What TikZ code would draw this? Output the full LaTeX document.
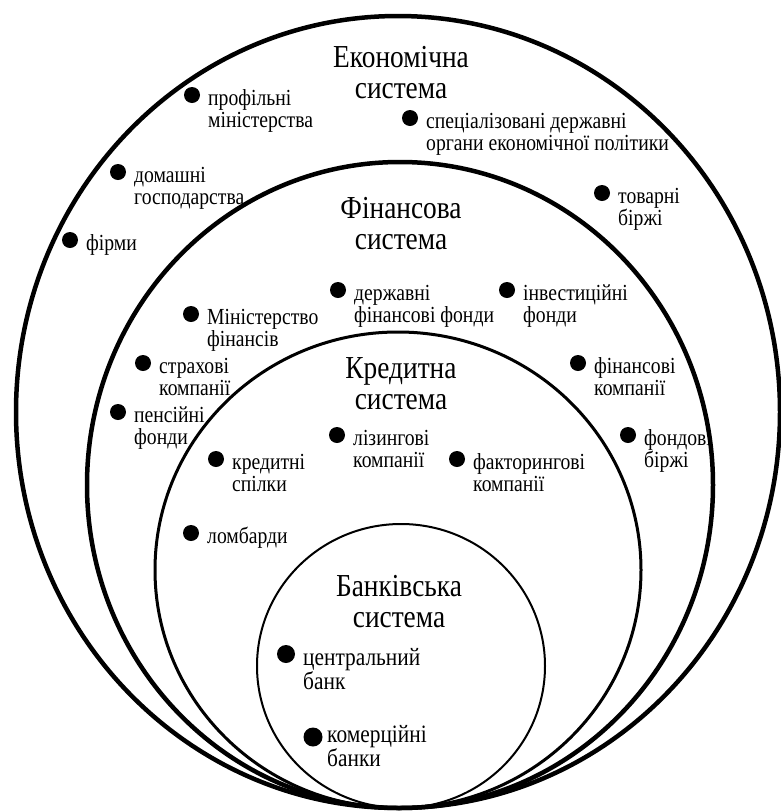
\documentclass[tikz,border=0pt]{standalone}
\usepackage{fontspec}
\setmainfont[FakeStretch=0.855]{Liberation Serif}
\newcommand{\itemfont}{\fontsize{23}{22}\selectfont}
\newcommand{\titlefont}{\fontsize{32}{31}\selectfont}
\newcommand{\bankfont}{\fontsize{25}{23}\selectfont}

\begin{document}
\begin{tikzpicture}[x=1pt,y=-1pt,
  ring/.style={draw,line width=#1},
  dot/.style={circle,fill,inner sep=0pt,minimum size=#1},
  lbl/.style={anchor=north west,inner sep=0pt,align=left,font=#1},
  ttl/.style={anchor=north,inner sep=0pt,align=center,font=\titlefont}]
    \useasboundingbox (0,0) rectangle (781,812);
    \fill[white] (0,0) rectangle (781,812);
    \draw[ring=4.5pt] (398,412) ellipse [x radius=382,y radius=396];
    \draw[ring=4.5pt] (400,485) ellipse [x radius=313,y radius=323];
    \draw[ring=3pt] (398,570) ellipse [x radius=243,y radius=238];
    \draw[ring=2pt] (401,666) ellipse [x radius=144,y radius=142];
    \node[ttl] (econ) at (401,41) {\rule{0pt}{26pt}Економічна\\система};
    \node[ttl] (fin) at (401,192) {\rule{0pt}{26pt}Фінансова\\система};
    \node[ttl] (cred) at (401,352) {\rule{0pt}{26pt}Кредитна\\система};
    \node[ttl] (bank) at (399,570) {\rule{0pt}{26pt}Банківська\\система};
    \foreach \x/\y/\t/\n in %
    {192/95/{профільні\\міністерства}/n0,
     410/118/{спеціалізовані державні\\органи економічної політики}/n1,
     118/172/{домашні\\господарства}/n2,
     602/193/{товарні\\біржі}/n3,
     70/240/{фірми}/n4,
     338/290/{державні\\фінансові фонди}/n5,
     507/290/{інвестиційні\\фонди}/n6,
     191/314/{Міністерство\\фінансів}/n7,
     143/363/{страхові\\компанії}/n8,
     578/363/{фінансові\\компанії}/n9,
     118/412/{пенсійні\\фонди}/n10,
     337/435/{лізингові\\компанії}/n11,
     628/435/{фондові\\біржі}/n12,
     216/459/{кредитні\\спілки}/n13,
     457/459/{факторингові\\компанії}/n14,
     191/533/{ломбарди}/n15} {
       \node[dot=16pt] (d\n) at (\x,\y) {};
       \node[lbl=\itemfont] (t\n) at ([xshift=16pt,yshift=10pt]d\n.center) {\rule{0pt}{20pt}\t};
    }
       \node[dot=18pt] (cb) at (286,654) {};
       \node[lbl=\bankfont] (tcb) at (303,643) {\rule{0pt}{22pt}центральний\\банк};
       \node[dot=19pt] (kb) at (313,737) {};
       \node[lbl=\bankfont] (tkb) at (327,720) {\rule{0pt}{22pt}комерційні\\банки};
\end{tikzpicture}
\end{document}
